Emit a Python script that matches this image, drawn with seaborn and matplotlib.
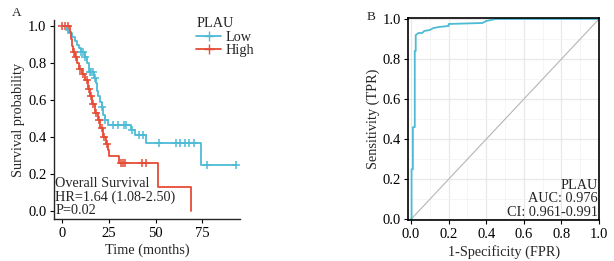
import numpy as np
import pandas as pd
import seaborn as sns
import matplotlib.pyplot as plt
from matplotlib.lines import Line2D

# KM step data (time in months, survival after step)
low_t = [0, 2, 3, 5, 7, 8, 9, 10, 12, 13, 14, 14.5, 17, 18, 18.5, 19, 20, 21, 22, 23, 24.5, 37, 39, 45, 74, 93]
low_s = [1.0, 0.98, 0.96, 0.94, 0.92, 0.90, 0.88, 0.86, 0.83, 0.80, 0.77, 0.75, 0.72, 0.69, 0.65, 0.62, 0.59, 0.56, 0.52, 0.49, 0.465, 0.44, 0.41, 0.366, 0.249, 0.249]
high_t = [0, 4, 4.5, 5, 5.6, 7, 8, 9, 10.4, 12, 13.5, 15, 16, 17.5, 19, 20.2, 22, 23.5, 24.6, 25.2, 30.5, 51, 69]
high_s = [1.0, 0.97, 0.93, 0.89, 0.86, 0.83, 0.80, 0.77, 0.74, 0.71, 0.66, 0.62, 0.58, 0.53, 0.49, 0.45, 0.40, 0.36, 0.33, 0.297, 0.261, 0.131, 0.0]

# censor marks
low_ct = [10, 11, 12, 14.8, 15.5, 16.2, 17.5, 21, 23, 27, 30, 33, 34, 37.5, 41, 43, 52, 61, 63, 65.7, 68, 70.5, 77.7, 93]
low_cs = [0.86, 0.86, 0.83, 0.75, 0.75, 0.75, 0.72, 0.56, 0.49, 0.465, 0.465, 0.465, 0.465, 0.44, 0.41, 0.41, 0.366, 0.366, 0.366, 0.366, 0.366, 0.366, 0.249, 0.249]
high_ct = [0, 1.5, 3, 6, 7.5, 9.5, 11, 13, 14, 15.5, 16.5, 18, 19.5, 21, 22.5, 24, 31.3, 32.3, 33.6, 42.5, 44.8]
high_cs = [1.0, 1.0, 1.0, 0.86, 0.83, 0.77, 0.74, 0.71, 0.66, 0.62, 0.58, 0.53, 0.49, 0.45, 0.40, 0.36, 0.261, 0.261, 0.261, 0.261, 0.261]

# ROC curve
fpr = [0, 0.003, 0.003, 0.01, 0.01, 0.02, 0.02, 0.025, 0.025, 0.04, 0.06, 0.07, 0.10, 0.12, 0.15, 0.20, 0.20, 0.38, 0.40, 0.45, 1.0]
tpr = [0, 0, 0.25, 0.25, 0.46, 0.46, 0.84, 0.84, 0.92, 0.93, 0.93, 0.94, 0.945, 0.955, 0.96, 0.965, 0.975, 0.98, 0.99, 1.0, 1.0]

groups = ["Low", "High"]
pal = {"Low": "#4DBBD5", "High": "#E64B35"}

sns.set_style("ticks")
plt.rcParams['font.family'] = ['Liberation Serif', 'DejaVu Serif']
plt.rcParams['font.size'] = 10

TICK = 10.5
LAB = 10.3

fig = plt.figure(figsize=(6.14, 2.61), dpi=100)

# ---- A: Kaplan-Meier ----
ax1 = fig.add_axes([0.088, 0.161, 0.303, 0.762])
km = pd.concat([pd.DataFrame({"t": low_t, "s": low_s, "g": "Low"}),
                pd.DataFrame({"t": high_t, "s": high_s, "g": "High"})])
cens = pd.concat([pd.DataFrame({"t": low_ct, "s": low_cs, "g": "Low"}),
                  pd.DataFrame({"t": high_ct, "s": high_cs, "g": "High"})])
for g in groups:
    d = km[km.g == g]
    sns.lineplot(x=d.t, y=d.s, color=pal[g], drawstyle='steps-post', lw=1.3,
                 ax=ax1, estimator=None, sort=False)
    c = cens[cens.g == g]
    sns.scatterplot(x=c.t, y=c.s, color=pal[g], marker='+', s=32, linewidth=1.1, ax=ax1)
ax1.set_xlim(-4.5, 95.2)
ax1.set_ylim(-0.043, 1.032)
ax1.set_xticks([0, 25, 50, 75])
ax1.set_yticks([0, 0.2, 0.4, 0.6, 0.8, 1.0])
ax1.set_yticklabels(["0.0", "0.2", "0.4", "0.6", "0.8", "1.0"])
ax1.set_xlabel("Time (months)", fontsize=LAB, labelpad=3)
ax1.set_ylabel("Survival probability", fontsize=LAB, labelpad=2)
ax1.tick_params(labelsize=TICK, length=3, width=0.8, pad=2.5, colors='black')
for sp in ['top', 'right']:
    ax1.spines[sp].set_visible(False)
for sp in ['left', 'bottom']:
    ax1.spines[sp].set_linewidth(1.0)
ax1.text(-3.8, 0.075, "Overall Survival\nHR=1.64 (1.08-2.50)\nP=0.02",
         fontsize=LAB, va='center', ha='left', linespacing=1.05)
handles = [Line2D([], [], color=pal[g], lw=1.3, marker='+', markersize=6.5) for g in groups]
leg = ax1.legend(handles, groups, title="PLAU", loc='upper left',
                 bbox_to_anchor=(0.735, 1.045), frameon=False, fontsize=LAB,
                 title_fontsize=LAB, handlelength=1.7, handletextpad=0.35,
                 labelspacing=0.05, borderaxespad=0)
leg._legend_box.align = "left"
fig.text(0.02, 0.95, "A", fontsize=9.5, ha='left', va='center')

# ---- B: ROC ----
ax2 = fig.add_axes([0.665, 0.157, 0.3106, 0.773])
sns.lineplot(x=[0, 1], y=[0, 1], color='#b5b5b5', lw=0.8, ax=ax2)
sns.lineplot(x=fpr, y=tpr, color=pal["Low"], lw=1.3, ax=ax2, sort=False, estimator=None)
ax2.set_xlim(-0.0144, 1.0)
ax2.set_ylim(-0.0035, 1.0035)
ticks = [0, 0.2, 0.4, 0.6, 0.8, 1.0]
labs = ["0.0", "0.2", "0.4", "0.6", "0.8", "1.0"]
ax2.set_xticks(ticks)
ax2.set_xticklabels(labs)
ax2.set_yticks(ticks)
ax2.set_yticklabels(labs)
ax2.set_xticks(np.arange(0.1, 1.0, 0.2), minor=True)
ax2.set_yticks(np.arange(0.1, 1.0, 0.2), minor=True)
ax2.grid(which='major', color='#e8e8e8', lw=0.9)
ax2.grid(which='minor', color='#f2f2f2', lw=0.5)
ax2.set_axisbelow(True)
ax2.tick_params(which='minor', length=0)
ax2.tick_params(labelsize=TICK, length=3, width=0.8, pad=2.5, colors='black')
for sp in ax2.spines.values():
    sp.set_linewidth(1.2)
    sp.set_color('black')
ax2.set_xlabel("1-Specificity (FPR)", fontsize=LAB, labelpad=3)
ax2.set_ylabel("Sensitivity (TPR)", fontsize=LAB, labelpad=2)
ax2.text(0.995, 0.003, "PLAU\nAUC: 0.976\nCI: 0.961-0.991", fontsize=LAB,
         ha='right', va='bottom', linespacing=1.05)
fig.text(0.597, 0.935, "B", fontsize=9.5, ha='left', va='center')

fig.savefig("out.png", dpi=100)
